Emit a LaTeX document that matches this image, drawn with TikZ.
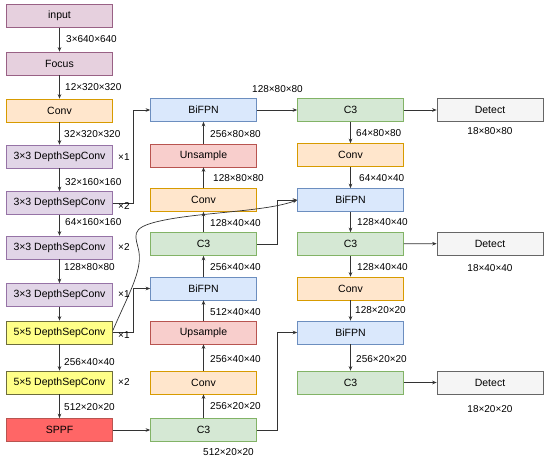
\documentclass[tikz,border=0pt]{standalone}
\usepackage{fontspec}
\setmainfont{Liberation Sans}
\usetikzlibrary{arrows.meta,calc}
\definecolor{pinkF}{HTML}{E6D0DE}\definecolor{pinkD}{HTML}{996185}
\definecolor{lilF}{HTML}{E1D5E7}\definecolor{lilD}{HTML}{9673A6}
\definecolor{orF}{HTML}{FFE6CC}\definecolor{orD}{HTML}{D79B00}
\definecolor{yeF}{HTML}{FFFF88}\definecolor{yeD}{HTML}{6D6D3D}
\definecolor{rdF}{HTML}{FF6666}\definecolor{rdD}{HTML}{B85450}
\definecolor{blF}{HTML}{DAE8FC}\definecolor{blD}{HTML}{6C8EBF}
\definecolor{pkF}{HTML}{F8CECC}\definecolor{pkD}{HTML}{B85450}
\definecolor{grF}{HTML}{D5E8D4}\definecolor{grD}{HTML}{82B366}
\definecolor{gyF}{HTML}{F5F5F5}\definecolor{gyD}{HTML}{666666}
\definecolor{ln}{HTML}{333333}
\begin{document}
\begin{tikzpicture}[x=1pt,y=-1pt,
  box/.style={draw, line width=0.7pt, minimum width=106pt, minimum height=23pt, inner sep=0pt,
    font=\fontsize{10.5}{12}\selectfont},
  inp/.style={box, fill=pinkF, draw=pinkD},
  dsc/.style={box, fill=lilF, draw=lilD},
  cnv/.style={box, fill=orF, draw=orD},
  dsy/.style={box, fill=yeF, draw=yeD},
  spp/.style={box, fill=rdF, draw=rdD},
  bif/.style={box, fill=blF, draw=blD},
  ups/.style={box, fill=pkF, draw=pkD},
  cth/.style={box, fill=grF, draw=grD},
  det/.style={box, fill=gyF, draw=gyD},
  lab/.style={font=\fontsize{10}{12}\selectfont, inner sep=0pt, anchor=west},
  clab/.style={font=\fontsize{10}{12}\selectfont, inner sep=0pt},
  arr/.style={draw=ln, line width=0.7pt, -{Stealth[length=4.5pt,width=3.6pt]}},
  ln0/.style={draw=ln, line width=0.7pt}]
\useasboundingbox (0,0) rectangle (550,463);
% left column
\node[inp] (input) at (59.5,16) {input};
\node[inp] (focus) at (59.5,63.5) {Focus};
\node[cnv] (convL) at (59.5,110.5) {Conv};
\node[dsc] (dsc1) at (59.5,156.5) {3×3 DepthSepConv};
\node[dsc] (dsc2) at (59.5,203) {3×3 DepthSepConv};
\node[dsc] (dsc3) at (59.5,247.5) {3×3 DepthSepConv};
\node[dsc] (dsc4) at (59.5,295) {3×3 DepthSepConv};
\node[dsy] (dsc5a) at (59.5,332.5) {5×5 DepthSepConv};
\node[dsy] (dsc5b) at (59.5,382.5) {5×5 DepthSepConv};
\node[spp] (sppf) at (59.5,430) {SPPF};
% middle column
\node[bif] (bifpn1) at (203.5,110) {BiFPN};
\node[ups] (unsample) at (203.5,155.5) {Unsample};
\node[cnv] (convm1) at (203.5,200) {Conv};
\node[cth] (c3m) at (203.5,244) {C3};
\node[bif] (bifpn2) at (203.5,288.5) {BiFPN};
\node[ups] (upsample) at (203.5,332.5) {Upsample};
\node[cnv] (convm2) at (203.5,382.5) {Conv};
\node[cth] (c3b) at (203.5,430) {C3};
% right column
\node[cth] (c3r1) at (350.5,110) {C3};
\node[cnv] (convr1) at (350.5,155) {Conv};
\node[bif] (bifpnr1) at (350.5,200) {BiFPN};
\node[cth] (c3r2) at (350.5,244) {C3};
\node[cnv] (convr2) at (350.5,288.5) {Conv};
\node[bif] (bifpnr2) at (350.5,332.5) {BiFPN};
\node[cth] (c3r3) at (350.5,382.5) {C3};
% detect
\node[det] (det1) at (490,110) {Detect};
\node[det] (det2) at (490,243.5) {Detect};
\node[det] (det3) at (490,382.5) {Detect};
% left arrows
\foreach \a/\b in {input/focus,focus/convL,convL/dsc1,dsc1/dsc2,dsc2/dsc3,dsc3/dsc4,dsc4/dsc5a,dsc5a/dsc5b,dsc5b/sppf}
  \draw[arr] (\a) -- (\b);
% middle arrows (upwards)
\foreach \a/\b in {c3b/convm2,convm2/upsample,upsample/bifpn2,bifpn2/c3m,c3m/convm1,convm1/unsample,unsample/bifpn1}
  \draw[arr] (\a) -- (\b);
% right arrows
\foreach \a/\b in {c3r1/convr1,convr1/bifpnr1,bifpnr1/c3r2,c3r2/convr2,convr2/bifpnr2,bifpnr2/c3r3}
  \draw[arr] (\a) -- (\b);
% horizontal
\draw[arr] (sppf) -- (c3b);
\draw[arr] (bifpn1) -- (c3r1);
\draw[arr] (c3r1) -- (det1);
\draw[arr] (c3r2) -- (det2);
\draw[arr] (c3r3) -- (det3);
% elbows
\draw[arr] (dsc2.east) -- ++(20,0) |- (bifpn1.west);
\draw[arr] (dsc5a.east) -- ++(20,0) |- (bifpn2.west);
\draw[arr] (c3m.east) -- ++(20,0) |- (bifpnr1.west);
\draw[arr] (c3b.east) -- ++(20,0) |- (bifpnr2.west);
% curve
\coordinate (cs) at ([yshift=2pt]dsc5a.east);
\draw[arr] (cs) .. controls (128,295) and (142,272) .. (139,252)
  .. controls (136,236) and (128,228) .. (160,221)
  .. controls (200,212) and (265,212) .. (bifpnr1.west);
% left labels
\node[lab] at (66,39) {3×640×640};
\node[lab] at (65,87) {12×320×320};
\node[lab] at (64,134.5) {32×320×320};
\node[lab] at (65,182) {32×160×160};
\node[lab] at (65,222) {64×160×160};
\node[lab] at (64,267) {128×80×80};
\node[lab] at (64,362) {256×40×40};
\node[lab] at (64,407) {512×20×20};
% multipliers
\node[lab] at (118,157) {×1};
\node[lab] at (118,206) {×2};
\node[lab] at (118,247.5) {×2};
\node[lab] at (118,294.5) {×1};
\node[lab] at (118,335) {×1};
\node[lab] at (118,382.5) {×2};
% middle labels
\node[lab] at (210,134) {256×80×80};
\node[lab] at (213,178) {128×80×80};
\node[lab] at (210,223) {128×40×40};
\node[lab] at (210,267) {256×40×40};
\node[lab] at (210,312) {512×40×40};
\node[lab] at (210,359) {256×40×40};
\node[lab] at (210,406) {256×20×20};
\node[lab] at (203,452.5) {512×20×20};
\node[clab] at (277.5,89.5) {128×80×80};
% right labels
\node[lab] at (356,133) {64×80×80};
\node[lab] at (359,178) {64×40×40};
\node[lab] at (357,222) {128×40×40};
\node[lab] at (357,267) {128×40×40};
\node[lab] at (355,310) {128×20×20};
\node[lab] at (356,359) {256×20×20};
% detect labels
\node[clab] at (490,131) {18×80×80};
\node[clab] at (490,268) {18×40×40};
\node[clab] at (490,409) {18×20×20};
\end{tikzpicture}
\end{document}
